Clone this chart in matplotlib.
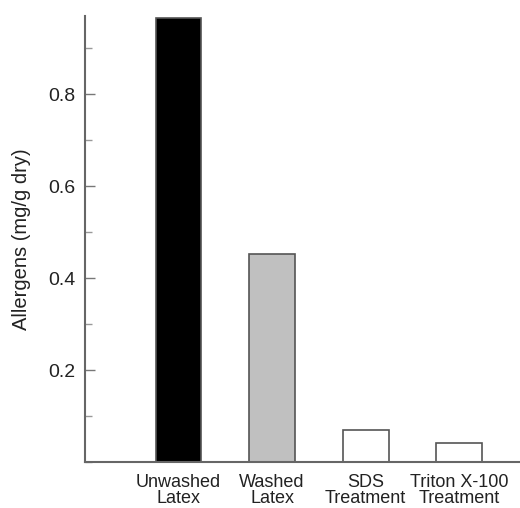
import matplotlib.pyplot as plt
from matplotlib.ticker import MultipleLocator

# Данные с графика
labels = ['Unwashed\nLatex', 'Washed\nLatex', 'SDS\nTreatment', 'Triton X-100\nTreatment']
values = [0.965, 0.452, 0.070, 0.041]
colors = ['#000000', '#c0c0c0', '#ffffff', '#ffffff']

plt.rcParams['font.family'] = ['Liberation Sans', 'DejaVu Sans']

fig = plt.figure(figsize=(5.2, 5.08), dpi=100)
ax = fig.add_axes([0.1635, 0.0906, 0.8365, 0.8779])

pos = [1, 2, 3, 4]
ax.bar(pos, values, width=0.49, color=colors, edgecolor='#555555', linewidth=1.2)

ax.set_xlim(0.0, 4.65)
ax.set_ylim(0, 0.97)
ax.set_xticks(pos)
ax.set_xticklabels(labels, fontsize=13, linespacing=0.88)
ax.set_yticks([0.2, 0.4, 0.6, 0.8])
ax.set_yticklabels(['0.2', '0.4', '0.6', '0.8'], fontsize=14)
ax.yaxis.set_minor_locator(MultipleLocator(0.1))
ax.tick_params(axis='x', length=0, pad=9, colors='#222222')
ax.tick_params(axis='y', which='major', direction='in', length=7, width=1, color='#777777', pad=7, labelcolor='#222222')
ax.tick_params(axis='y', which='minor', direction='in', length=5, width=1, color='#999999')
ax.set_ylabel('Allergens (mg/g dry)', fontsize=14.5, color='#222222', labelpad=12)

for s in ['top', 'right']:
    ax.spines[s].set_visible(False)
for s in ['left', 'bottom']:
    ax.spines[s].set_color('#666666')
    ax.spines[s].set_linewidth(1.5)

fig.savefig('out.png', dpi=100)
